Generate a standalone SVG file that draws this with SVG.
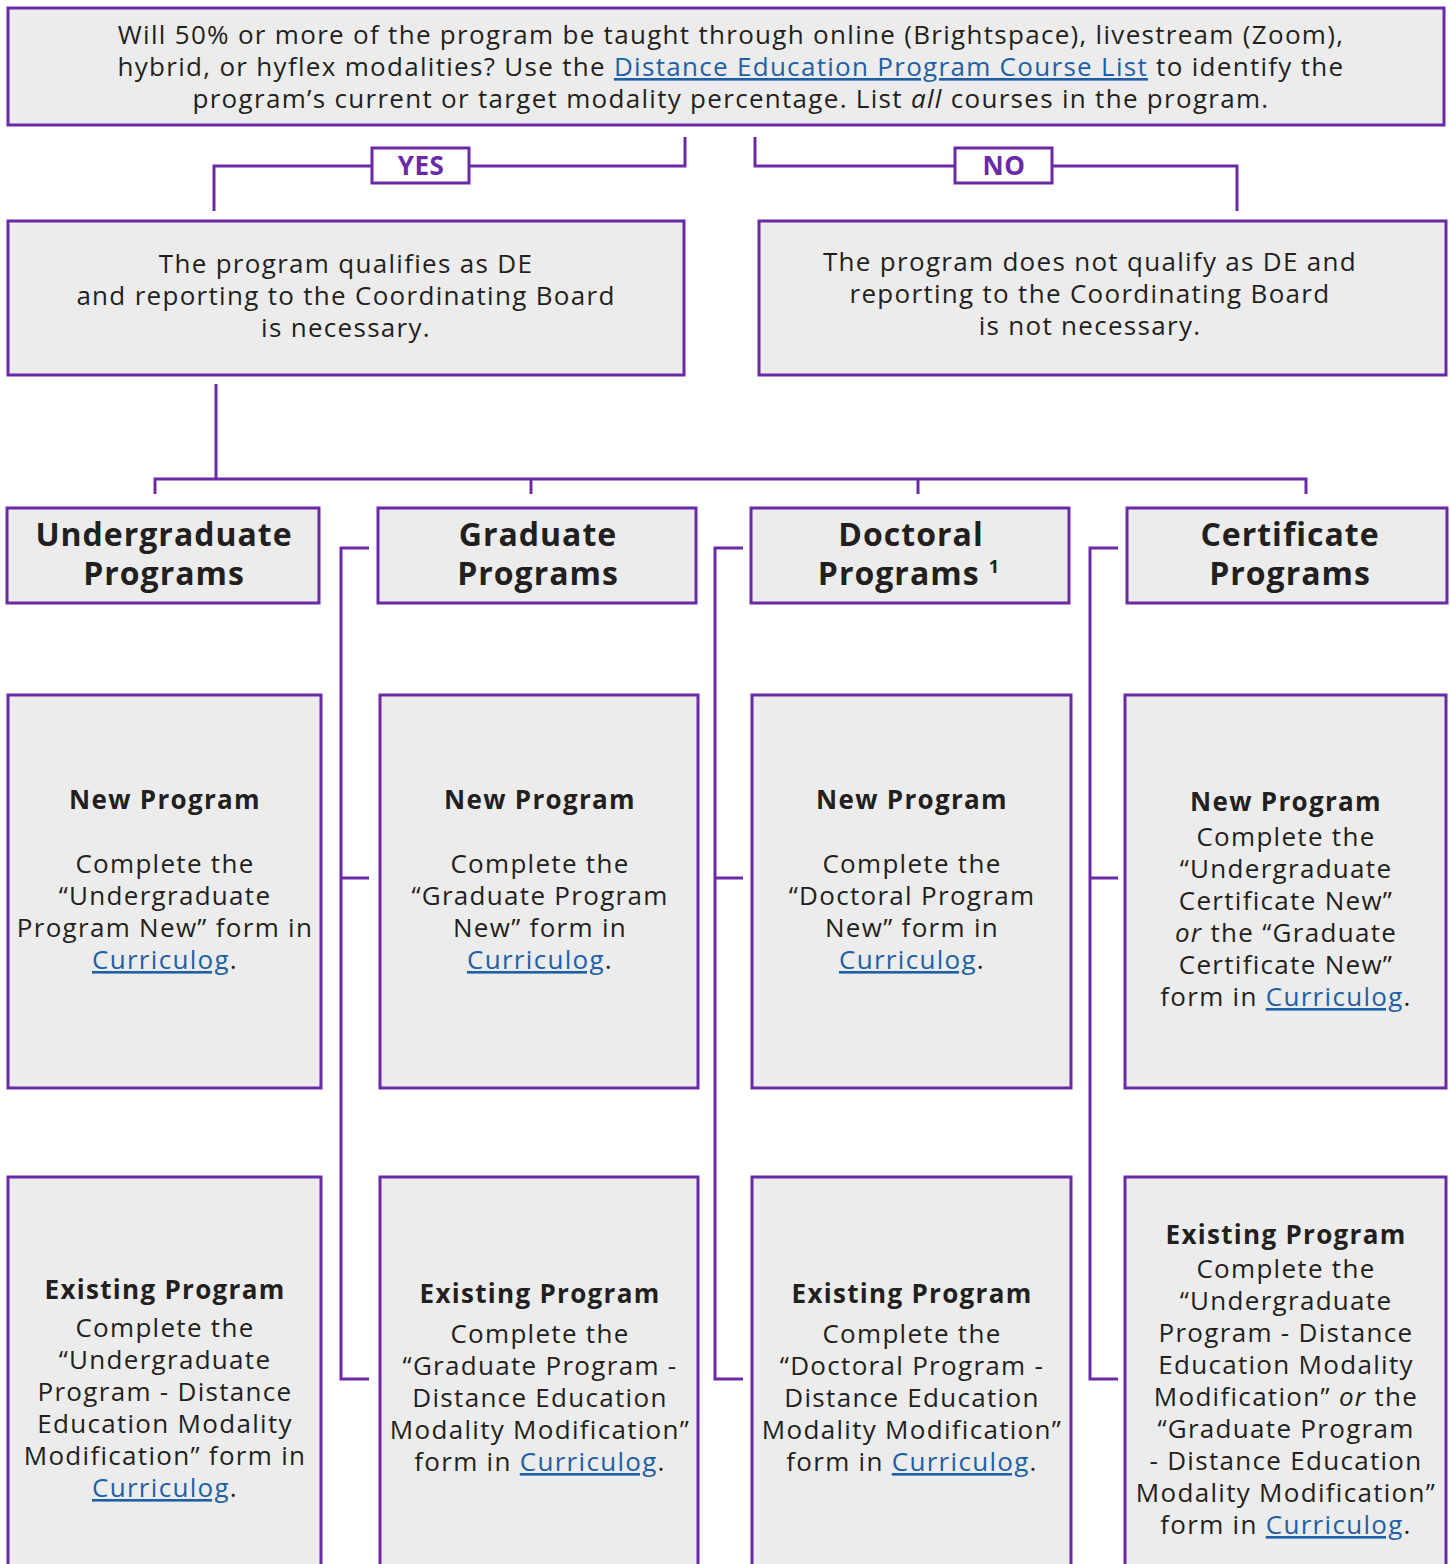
<svg xmlns="http://www.w3.org/2000/svg" width="1450" height="1564" viewBox="0 0 1450 1564">
<style>
.box{fill:#ebeceb;stroke:#6a2aa8;stroke-width:3}
.lbl{fill:#ffffff;stroke:#6a2aa8;stroke-width:3}
.con{fill:none;stroke:#6a2aa8;stroke-width:3}
text{font-family:"Open Sans","Liberation Sans",sans-serif;fill:#231f20;text-anchor:middle}
.t{font-size:26px;letter-spacing:1.3px}
.h{font-size:32px;font-weight:bold;letter-spacing:1px}
.b{font-size:26px;font-weight:bold;letter-spacing:1.3px}
.yn{font-size:26px;font-weight:bold;fill:#6a2aa8;letter-spacing:0.5px}
.a{fill:#1f5fa6;text-decoration:underline}
.i{font-style:italic}
</style>
<rect width="1450" height="1564" fill="#ffffff"/>
<g id="connectors">
<path class="con" d="M685 137V166H469M372 166H214V211"/>
<path class="con" d="M755 137V166H955M1052 166H1237V211"/>
<path class="con" d="M216 384V479M155 494V479H1306V494M531 479V494M918 479V494"/>
<path class="con" d="M369 548H341V1379H369M341 878H369"/>
<path class="con" d="M743 548H715V1379H743M715 878H743"/>
<path class="con" d="M1118 548H1090V1379H1118M1090 878H1118"/>
</g>
<g id="question">
<rect class="box" x="8" y="8" width="1436" height="117"/>
<text class="t" x="731" y="44">Will 50% or more of the program be taught through online (Brightspace), livestream (Zoom),</text>
<text class="t" x="731" y="76">hybrid, or hyflex modalities? Use the <tspan class="a">Distance Education Program Course List</tspan> to identify the</text>
<text class="t" x="731" y="108">program’s current or target modality percentage. List <tspan class="i">all</tspan> courses in the program.</text>
</g>
<g id="yes">
<rect class="lbl" x="372" y="148" width="97" height="35"/>
<text class="yn" x="421" y="175">YES</text>
</g>
<g id="no">
<rect class="lbl" x="955" y="148" width="97" height="35"/>
<text class="yn" x="1004" y="175">NO</text>
</g>
<g id="qualifies">
<rect class="box" x="8" y="221" width="676" height="154"/>
<text class="t" x="346" y="273">The program qualifies as DE</text>
<text class="t" x="346" y="305">and reporting to the Coordinating Board</text>
<text class="t" x="346" y="337">is necessary.</text>
</g>
<g id="notqualifies">
<rect class="box" x="759" y="221" width="687" height="154"/>
<text class="t" x="1090" y="271">The program does not qualify as DE and</text>
<text class="t" x="1090" y="303">reporting to the Coordinating Board</text>
<text class="t" x="1090" y="335">is not necessary.</text>
</g>
<g id="undergrad">
<rect class="box" x="7" y="508" width="312" height="95"/>
<text class="h" x="164" y="546">Undergraduate</text>
<text class="h" x="164" y="585">Programs</text>
</g>
<g id="graduate">
<rect class="box" x="378" y="508" width="318" height="95"/>
<text class="h" x="538" y="546">Graduate</text>
<text class="h" x="538" y="585">Programs</text>
</g>
<g id="doctoral">
<rect class="box" x="751" y="508" width="318" height="95"/>
<text class="h" x="911" y="546">Doctoral</text>
<text class="h" x="909" y="585">Programs <tspan font-size="18" dy="-12">1</tspan></text>
</g>
<g id="certificate">
<rect class="box" x="1127" y="508" width="320" height="95"/>
<text class="h" x="1290" y="546">Certificate</text>
<text class="h" x="1290" y="585">Programs</text>
</g>
<g id="ug-new">
<rect class="box" x="8" y="695" width="313" height="393"/>
<text class="b" x="165" y="809">New Program</text>
<text class="t" x="165" y="873">Complete the</text>
<text class="t" x="165" y="905">“Undergraduate</text>
<text class="t" x="165" y="937">Program New” form in</text>
<text class="t" x="165" y="969"><tspan class="a">Curriculog</tspan>.</text>
</g>
<g id="gr-new">
<rect class="box" x="380" y="695" width="318" height="393"/>
<text class="b" x="540" y="809">New Program</text>
<text class="t" x="540" y="873">Complete the</text>
<text class="t" x="540" y="905">“Graduate Program</text>
<text class="t" x="540" y="937">New” form in</text>
<text class="t" x="540" y="969"><tspan class="a">Curriculog</tspan>.</text>
</g>
<g id="doc-new">
<rect class="box" x="752" y="695" width="319" height="393"/>
<text class="b" x="912" y="809">New Program</text>
<text class="t" x="912" y="873">Complete the</text>
<text class="t" x="912" y="905">“Doctoral Program</text>
<text class="t" x="912" y="937">New” form in</text>
<text class="t" x="912" y="969"><tspan class="a">Curriculog</tspan>.</text>
</g>
<g id="cert-new">
<rect class="box" x="1125" y="695" width="321" height="393"/>
<text class="b" x="1286" y="811">New Program</text>
<text class="t" x="1286" y="846">Complete the</text>
<text class="t" x="1286" y="878">“Undergraduate</text>
<text class="t" x="1286" y="910">Certificate New”</text>
<text class="t" x="1286" y="942"><tspan class="i">or</tspan> the “Graduate</text>
<text class="t" x="1286" y="974">Certificate New”</text>
<text class="t" x="1286" y="1006">form in <tspan class="a">Curriculog</tspan>.</text>
</g>
<g id="ug-existing">
<rect class="box" x="8" y="1177" width="313" height="400"/>
<text class="b" x="165" y="1299">Existing Program</text>
<text class="t" x="165" y="1337">Complete the</text>
<text class="t" x="165" y="1369">“Undergraduate</text>
<text class="t" x="165" y="1401">Program - Distance</text>
<text class="t" x="165" y="1433">Education Modality</text>
<text class="t" x="165" y="1465">Modification” form in</text>
<text class="t" x="165" y="1497"><tspan class="a">Curriculog</tspan>.</text>
</g>
<g id="gr-existing">
<rect class="box" x="380" y="1177" width="318" height="400"/>
<text class="b" x="540" y="1303">Existing Program</text>
<text class="t" x="540" y="1343">Complete the</text>
<text class="t" x="540" y="1375">“Graduate Program -</text>
<text class="t" x="540" y="1407">Distance Education</text>
<text class="t" x="540" y="1439">Modality Modification”</text>
<text class="t" x="540" y="1471">form in <tspan class="a">Curriculog</tspan>.</text>
</g>
<g id="doc-existing">
<rect class="box" x="752" y="1177" width="319" height="400"/>
<text class="b" x="912" y="1303">Existing Program</text>
<text class="t" x="912" y="1343">Complete the</text>
<text class="t" x="912" y="1375">“Doctoral Program -</text>
<text class="t" x="912" y="1407">Distance Education</text>
<text class="t" x="912" y="1439">Modality Modification”</text>
<text class="t" x="912" y="1471">form in <tspan class="a">Curriculog</tspan>.</text>
</g>
<g id="cert-existing">
<rect class="box" x="1125" y="1177" width="321" height="400"/>
<text class="b" x="1286" y="1244">Existing Program</text>
<text class="t" x="1286" y="1278">Complete the</text>
<text class="t" x="1286" y="1310">“Undergraduate</text>
<text class="t" x="1286" y="1342">Program - Distance</text>
<text class="t" x="1286" y="1374">Education Modality</text>
<text class="t" x="1286" y="1406">Modification” <tspan class="i">or</tspan> the</text>
<text class="t" x="1286" y="1438">“Graduate Program</text>
<text class="t" x="1286" y="1470">- Distance Education</text>
<text class="t" x="1286" y="1502">Modality Modification”</text>
<text class="t" x="1286" y="1534">form in <tspan class="a">Curriculog</tspan>.</text>
</g>
</svg>
